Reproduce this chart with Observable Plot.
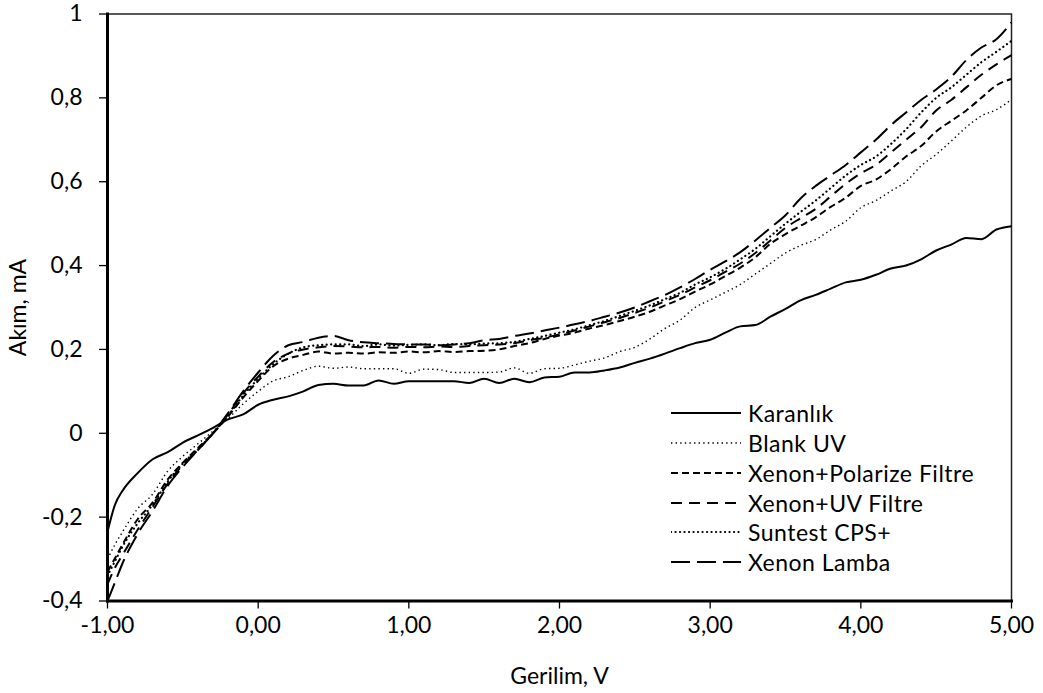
<!DOCTYPE html>
<html>
<head>
<meta charset="utf-8">
<script src="https://cdn.jsdelivr.net/npm/d3@7"></script>
<script src="https://cdn.jsdelivr.net/npm/@observablehq/plot@0.6"></script>
<style>
  html, body { margin: 0; padding: 0; background: #fff; }
  #wrap { position: relative; width: 1043px; height: 693px; font-family: Lato, "DejaVu Sans", sans-serif; }
  .leg { position: absolute; left: 671px; height: 30px; display: flex; align-items: center; font-size: 23px; letter-spacing: 0.5px; color: #000; white-space: nowrap; }
  .leg svg { width: 70px; height: 10px; margin-right: 7px; }
</style>
</head>
<body>
<div id="wrap"></div>
<script>
// Gerilim (V)
const voltage = [-1.0,-0.95,-0.9,-0.8,-0.7,-0.6,-0.5,-0.4,-0.3,-0.2,-0.1,
  0.0,0.1,0.2,0.3,0.4,0.5,0.6,0.7,0.8,0.9,
  1.0,1.1,1.2,1.3,1.4,1.5,1.6,1.7,1.8,1.9,
  2.0,2.1,2.2,2.3,2.4,2.5,2.6,2.7,2.8,2.9,
  3.0,3.1,3.2,3.3,3.4,3.5,3.6,3.7,3.8,3.9,
  4.0,4.1,4.2,4.3,4.4,4.5,4.6,4.7,4.8,4.9,5.0];

const karanlik = [-0.235,-0.17,-0.137,-0.095,-0.062,-0.045,-0.022,-0.005,0.013,0.033,0.045,
  0.068,0.08,0.088,0.1,0.115,0.118,0.114,0.114,0.126,0.118,
  0.124,0.124,0.124,0.124,0.12,0.13,0.12,0.13,0.122,0.133,
  0.135,0.145,0.145,0.15,0.157,0.168,0.178,0.19,0.203,0.215,
  0.223,0.24,0.255,0.258,0.278,0.297,0.317,0.33,0.345,0.36,
  0.366,0.378,0.393,0.4,0.415,0.436,0.45,0.466,0.463,0.486,0.494];

const blankUV = [-0.30,-0.265,-0.235,-0.18,-0.145,-0.09,-0.055,-0.025,0.005,0.035,0.07,
  0.1,0.125,0.135,0.15,0.16,0.155,0.158,0.154,0.154,0.154,
  0.143,0.153,0.152,0.145,0.145,0.145,0.146,0.156,0.143,0.154,
  0.155,0.163,0.172,0.18,0.195,0.205,0.225,0.25,0.27,0.3,
  0.318,0.336,0.355,0.38,0.405,0.43,0.448,0.462,0.485,0.506,
  0.538,0.555,0.578,0.6,0.638,0.665,0.697,0.73,0.757,0.772,0.796];

const xenonPolarize = [-0.33,-0.298,-0.265,-0.205,-0.165,-0.11,-0.07,-0.035,0.0,0.04,0.085,
  0.125,0.16,0.178,0.187,0.195,0.19,0.192,0.19,0.193,0.192,
  0.195,0.193,0.196,0.194,0.196,0.197,0.2,0.208,0.215,0.225,
  0.233,0.24,0.25,0.258,0.268,0.278,0.29,0.305,0.32,0.338,
  0.355,0.375,0.395,0.42,0.452,0.475,0.495,0.515,0.54,0.562,
  0.59,0.605,0.63,0.66,0.685,0.72,0.745,0.77,0.8,0.83,0.845];

const xenonUV = [-0.36,-0.32,-0.29,-0.23,-0.175,-0.12,-0.075,-0.04,0.0,0.045,0.095,
  0.135,0.17,0.19,0.2,0.205,0.208,0.207,0.205,0.206,0.204,
  0.206,0.205,0.207,0.206,0.208,0.21,0.212,0.215,0.222,0.228,
  0.236,0.245,0.255,0.265,0.275,0.287,0.3,0.315,0.33,0.348,
  0.365,0.385,0.405,0.43,0.46,0.49,0.513,0.535,0.565,0.595,
  0.62,0.64,0.67,0.7,0.73,0.77,0.795,0.825,0.855,0.88,0.902];

const suntest = [-0.34,-0.305,-0.27,-0.215,-0.17,-0.115,-0.072,-0.038,0.0,0.042,0.09,
  0.13,0.165,0.19,0.205,0.21,0.212,0.212,0.208,0.212,0.209,
  0.211,0.212,0.21,0.213,0.212,0.214,0.215,0.218,0.225,0.232,
  0.24,0.248,0.258,0.268,0.28,0.292,0.305,0.32,0.335,0.355,
  0.372,0.392,0.415,0.44,0.47,0.5,0.528,0.555,0.585,0.615,
  0.64,0.66,0.69,0.725,0.765,0.8,0.825,0.855,0.885,0.91,0.936];

const xenonLamba = [-0.40,-0.355,-0.31,-0.24,-0.185,-0.125,-0.08,-0.04,0.0,0.048,0.1,
  0.145,0.185,0.21,0.218,0.228,0.232,0.222,0.217,0.215,0.213,
  0.212,0.212,0.21,0.212,0.215,0.222,0.225,0.232,0.238,0.245,
  0.252,0.26,0.268,0.278,0.288,0.3,0.315,0.33,0.348,0.368,
  0.39,0.41,0.432,0.46,0.49,0.52,0.56,0.59,0.615,0.64,
  0.67,0.7,0.735,0.765,0.795,0.82,0.85,0.89,0.92,0.94,0.98];

const seriesNames = ["Karanlık","Blank UV","Xenon+Polarize Filtre","Xenon+UV Filtre","Suntest CPS+","Xenon Lamba"];
const xTicks = [-1,0,1,2,3,4,5];
const yTicks = [-0.4,-0.2,0,0.2,0.4,0.6,0.8,1];

const seriesValues = [karanlik, blankUV, xenonPolarize, xenonUV, suntest, xenonLamba];
const styles = [
  {strokeWidth: 2, strokeDasharray: null, strokeLinecap: "butt"},
  {strokeWidth: 1.4, strokeDasharray: "1.4 3.2", strokeLinecap: "butt"},
  {strokeWidth: 2, strokeDasharray: "7 4", strokeLinecap: "butt"},
  {strokeWidth: 2, strokeDasharray: "11 7", strokeLinecap: "butt"},
  {strokeWidth: 2.2, strokeDasharray: "0.1 4.4", strokeLinecap: "round"},
  {strokeWidth: 2, strokeDasharray: "19 7", strokeLinecap: "butt"}
];

const fmtX = d => (d < 0 ? "-" : "") + Math.abs(d).toFixed(2).replace(".", ",");
const fmtY = d => { const v = Math.round(d * 10) / 10; return (v < 0 ? "-" : "") + String(Math.abs(v)).replace(".", ","); };

const lineMarks = seriesNames.map((name, i) => {
  const rows = voltage.map((v, j) => ({x: v, y: seriesValues[i][j], s: name}));
  const st = styles[i];
  const opts = {x: "x", y: "y", stroke: "#000", strokeWidth: st.strokeWidth, strokeLinecap: st.strokeLinecap, strokeLinejoin: "round", curve: "monotone-x"};
  if (st.strokeDasharray) opts.strokeDasharray = st.strokeDasharray;
  return Plot.line(rows, opts);
});

const chart = Plot.plot({
  width: 1043,
  height: 693,
  marginLeft: 107,
  marginRight: 32,
  marginTop: 13.5,
  marginBottom: 92.5,
  style: {fontFamily: "Lato, 'DejaVu Sans', sans-serif", fontSize: "23px", color: "#000", background: "#fff"},
  x: {domain: [-1, 5]},
  y: {domain: [-0.4, 1]},
  marks: [
    Plot.frame({stroke: "#222", strokeWidth: 1.5}),
    ...lineMarks,
    Plot.axisX({ticks: xTicks, tickFormat: fmtX, tickSize: 8, tickPadding: 8, strokeWidth: 1.3, label: null, fontSize: 23}),
    Plot.axisY({ticks: yTicks, tickFormat: fmtY, tickSize: 8, tickPadding: 17, strokeWidth: 1.3, label: null, fontSize: 23}),
    Plot.frame({anchor: "left", stroke: "#000", strokeWidth: 3}),
    Plot.frame({anchor: "bottom", stroke: "#000", strokeWidth: 3}),
    Plot.text(["Gerilim, V"], {frameAnchor: "bottom", dy: 76, textAnchor: "middle", lineAnchor: "middle", fontSize: 23}),
    Plot.text(["Akım, mA"], {frameAnchor: "left", dx: -89, rotate: -90, textAnchor: "middle", lineAnchor: "middle", fontSize: 23})
  ]
});

const wrap = document.getElementById("wrap");
wrap.appendChild(chart);

const legendTops = [413, 443, 473, 502.5, 532, 562];
seriesNames.forEach((name, i) => {
  const st = styles[i];
  const row = document.createElement("div");
  row.className = "leg";
  row.style.top = (legendTops[i] - 15) + "px";
  const ns = "http://www.w3.org/2000/svg";
  const svg = document.createElementNS(ns, "svg");
  svg.setAttribute("viewBox", "0 0 70 10");
  const ln = document.createElementNS(ns, "line");
  ln.setAttribute("x1", 0); ln.setAttribute("x2", 70);
  ln.setAttribute("y1", 5); ln.setAttribute("y2", 5);
  ln.setAttribute("stroke", "#000");
  ln.setAttribute("stroke-width", st.strokeWidth);
  ln.setAttribute("stroke-linecap", st.strokeLinecap);
  if (st.strokeDasharray) ln.setAttribute("stroke-dasharray", st.strokeDasharray);
  svg.appendChild(ln);
  const span = document.createElement("span");
  span.textContent = name;
  row.appendChild(svg);
  row.appendChild(span);
  wrap.appendChild(row);
});
</script>
</body>
</html>
